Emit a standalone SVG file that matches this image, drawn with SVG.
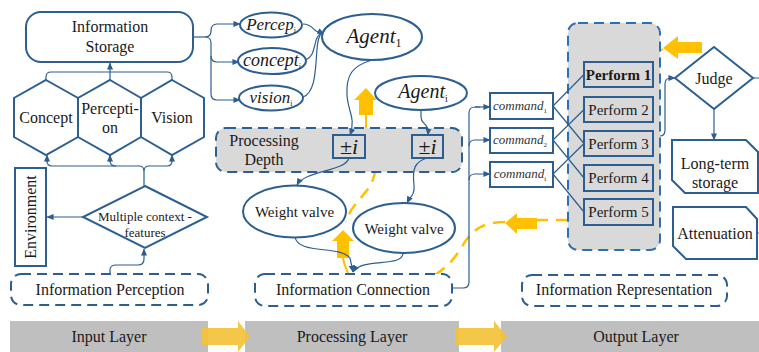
<svg xmlns="http://www.w3.org/2000/svg" width="759" height="352" viewBox="0 0 759 352" font-family="'Liberation Serif', 'Times New Roman', Times, serif">
<defs>
<marker id="ah" viewBox="0 0 8 8" refX="7.5" refY="4" markerWidth="7" markerHeight="7" markerUnits="userSpaceOnUse" orient="auto"><path d="M0,0.5 L8,4 L0,7.5 Z" fill="#2c5f8f"/></marker>
</defs>
<style>
.n{fill:#fff;stroke:#2c5f8f;stroke-width:2}
.g{fill:#d9d9d9;stroke:#2c5f8f;stroke-width:2}
.d{fill:#fff;stroke:#2c5f8f;stroke-width:2;stroke-dasharray:10 6}
.dg{fill:#d9d9d9;stroke:#2c5f8f;stroke-width:2;stroke-dasharray:10 6}
.do{fill:#d9d9d9;stroke:#2e6fb0;stroke-width:2;stroke-dasharray:10 6}
.c{fill:none;stroke:#2c5f8f;stroke-width:1.2}
.ca{fill:none;stroke:#2c5f8f;stroke-width:1.2;marker-end:url(#ah)}
text{font-family:'Liberation Serif','Times New Roman',Times,serif}
.t{font-size:16px;fill:#1a1a1a;text-anchor:middle}
.i{font-style:italic}
.y{fill:#ffc000}
.yb{fill:#f3c23a;opacity:0.92}
.yd{fill:none;stroke:#ffc000;stroke-width:2.5;stroke-dasharray:12 8}
.ys{fill:none;stroke:#ffc000;stroke-width:2}
.bar{fill:#bfbfbf}
</style>

<!-- bottom layer bars -->
<g id="layers">
<rect class="bar" x="10" y="321" width="198" height="31"/>
<rect class="bar" x="245" y="321" width="214" height="31"/>
<rect class="bar" x="501" y="321" width="258" height="31"/>
<text class="t" x="109" y="342">Input Layer</text>
<text class="t" x="352" y="342">Processing Layer</text>
<text class="t" x="636" y="342">Output Layer</text>
<path class="yb" d="M202,328 H238 V321 L250,336.5 L238,352 V345 H202 Z"/>
<path class="yb" d="M455,328 H494 V321 L507,336.5 L494,352 V345 H455 Z"/>
</g>

<!-- yellow feedback paths (behind boxes) -->
<g id="feedback">
<path class="ys" d="M366,115 V130"/>
<path class="yd" d="M375,170 C374,192 352,200 346,222"/>
<path class="ys" d="M343,258 C344,265 346,268 348,273"/>
<path class="yd" d="M568,220 H537"/>
<path class="yd" d="M505,222 C480,222 470,232 460,250 C452,262 445,268 435,275"/>
<path class="ys" d="M663,49 L660,51"/>
<path class="y" d="M366,88 L377,100 H373 V115 H359 V100 H354 Z"/>
<path class="y" d="M343,230 L354,241 H349 V258 H337 V241 H332 Z"/>
<path class="y" d="M505,223 L517,213 V218 H537 V229 H517 V234 Z"/>
<path class="y" d="M663,48 L678,36 V42 H702 V53 H678 V59 Z"/>
</g>

<!-- containers -->
<g id="processing-depth">
<rect class="dg" x="216" y="128" width="246" height="44" rx="10"/>
<text class="t" x="264" y="146">Processing</text>
<text class="t" x="264" y="165">Depth</text>
</g>
<g id="output-group">
<rect class="do" x="568" y="23" width="92" height="227" rx="10"/>
</g>

<!-- connectors -->
<g id="connectors">
<path class="c" d="M46,80 V77 Q46,72 51,72 H167 Q172,72 172,77 V80"/>
<path class="ca" d="M110,80 V63"/>
<path class="c" d="M144,186 V171 Q144,166 139,166 H52 Q47,166 47,161"/>
<path class="ca" d="M47,162 V155"/>
<path class="c" d="M144,171 Q144,166 149,166 H167 Q172,166 172,161"/>
<path class="ca" d="M172,162 V155"/>
<path class="c" d="M116,166 Q110,166 110,161"/>
<path class="ca" d="M110,162 V155"/>
<path class="ca" d="M110,274 V270 Q110,265 116,265 H138 Q144,265 144,259 V249"/>
<path class="ca" d="M83,217 H47"/>
<path class="c" d="M193,37 H205"/>
<path class="ca" d="M205,37 Q211,37 211,31 Q211,24 217,24 H240"/>
<path class="ca" d="M205,37 Q211,37 211,43 V56 Q211,62 217,62 H239"/>
<path class="ca" d="M211,56 V94 Q211,100 217,100 H240"/>
<path class="c" d="M303,24 C314,24 313,33 322,33"/>
<path class="c" d="M305,60 C318,56 312,36 322,33"/>
<path class="c" d="M303,97 C322,90 312,40 322,33"/>
<path class="ca" d="M318,31 L324,34"/>
<path class="ca" d="M372,60 C352,66 346,75 347,95 C348,112 356,118 350,135"/>
<path class="ca" d="M421,110 V117 C421,125 429,122 428,135"/>
<path class="ca" d="M349,158 C345,172 305,170 297,185"/>
<path class="ca" d="M427,158 C415,162 412,168 414,185 C415,195 410,197 407,203"/>
<path class="ca" d="M295,237 C298,255 340,245 350,258 L353,272"/>
<path class="ca" d="M403,253 C403,268 362,257 353,272"/>
<path class="c" d="M452,288 H463 Q469,288 469,282 V113 Q469,107 475,107 H480"/>
<path class="ca" d="M475,107 H490"/>
<path class="ca" d="M469,146 Q469,140 475,140 H490"/>
<path class="ca" d="M469,180 Q469,174 475,174 H490"/>
<path class="c" d="M553,106 L584,74.5 M553,106 L584,143.5 M553,140 L584,109.5 M553,140 L584,178 M553,174 L584,143.5 M553,174 L584,212"/>
<path class="ca" d="M660,136 Q665,136 665,130 V84 Q665,78 671,78 H675"/>
<path class="ca" d="M714,109 V140"/>
<path class="c" d="M753,78 H759 M757,233 H759"/>
</g>

<!-- input layer nodes -->
<g id="info-storage">
<rect class="n" x="26" y="12" width="167" height="50" rx="15"/>
<text class="t" x="110" y="32">Information</text>
<text class="t" x="110" y="52">Storage</text>
</g>
<g id="concept">
<polygon class="n" points="46,80 78,98 78,137 46,155 14,137 14,98"/>
<text class="t" x="46" y="123">Concept</text>
</g>
<g id="perception">
<polygon class="n" points="110,80 141,98 141,137 110,155 78,137 78,98"/>
<text class="t" x="110" y="114">Percepti-</text>
<text class="t" x="110" y="133">on</text>
</g>
<g id="vision">
<polygon class="n" points="172,80 204,98 204,137 172,155 141,137 141,98"/>
<text class="t" x="172" y="123">Vision</text>
</g>
<g id="environment">
<rect class="n" x="15" y="168" width="31" height="98"/>
<text class="t" x="30" y="217" transform="rotate(-90 30 217)" dy="5.5">Environment</text>
</g>
<g id="multiple-context">
<polygon class="n" points="145,186 207,217 145,248 83,217"/>
<text class="t" x="145" y="221" style="font-size:13px">Multiple context -</text>
<text class="t" x="145" y="237" style="font-size:13px">features</text>
</g>
<g id="info-perception">
<rect class="d" x="11" y="274" width="197" height="31" rx="10"/>
<text class="t" x="110" y="295">Information Perception</text>
</g>

<!-- processing layer nodes -->
<g id="percep-i">
<ellipse class="n" cx="271" cy="25" rx="31" ry="12.5"/>
<text class="t i" x="271" y="30" style="font-size:17px">Percep<tspan dy="3" style="font-size:8px;font-style:normal">i</tspan></text>
</g>
<g id="concept-i">
<ellipse class="n" cx="272" cy="61" rx="34" ry="13"/>
<text class="t i" x="272" y="66" style="font-size:18px">concept<tspan dy="3" style="font-size:8px;font-style:normal">i</tspan></text>
</g>
<g id="vision-i">
<ellipse class="n" cx="271" cy="98" rx="32" ry="12.5"/>
<text class="t i" x="271" y="103" style="font-size:17px">vision<tspan dy="3" style="font-size:8px;font-style:normal">i</tspan></text>
</g>
<g id="agent-1">
<ellipse class="n" cx="372" cy="37" rx="50" ry="23"/>
<text class="t i" x="374" y="43" style="font-size:21px">Agent<tspan dy="4" style="font-size:12px;font-style:normal">1</tspan></text>
</g>
<g id="agent-i">
<ellipse class="n" cx="421" cy="93" rx="46" ry="17"/>
<text class="t i" x="423" y="98" style="font-size:20px">Agent<tspan dy="4" style="font-size:10px;font-style:normal">i</tspan></text>
</g>
<g id="pm-1">
<rect class="g" x="333" y="135" width="32" height="23"/>
<text class="t" x="349" y="154" style="font-size:22px">±<tspan class="i">i</tspan></text>
</g>
<g id="pm-2">
<rect class="g" x="412" y="135" width="31" height="23"/>
<text class="t" x="427.5" y="154" style="font-size:22px">±<tspan class="i">i</tspan></text>
</g>
<g id="weight-valve-1">
<ellipse class="n" cx="294.5" cy="211.5" rx="51.5" ry="26"/>
<text class="t" x="294.5" y="217" style="font-size:15px">Weight valve</text>
</g>
<g id="weight-valve-2">
<ellipse class="n" cx="404" cy="228" rx="51" ry="25"/>
<text class="t" x="404" y="234" style="font-size:15px">Weight valve</text>
</g>
<g id="info-connection">
<rect class="d" x="255" y="274" width="197" height="32" rx="10"/>
<text class="t" x="353" y="295">Information Connection</text>
</g>

<!-- output layer nodes -->
<g id="command-1">
<rect class="n" x="490" y="93" width="63" height="26"/>
<text class="t i" x="520" y="110" style="font-size:13px;fill:#333">command<tspan dy="3" style="font-size:7px;font-style:normal">1</tspan></text>
</g>
<g id="command-2">
<rect class="n" x="490" y="128" width="63" height="25"/>
<text class="t i" x="520" y="144" style="font-size:13px;fill:#333">command<tspan dy="3" style="font-size:7px;font-style:normal">2</tspan></text>
</g>
<g id="command-i">
<rect class="n" x="490" y="162" width="63" height="25"/>
<text class="t i" x="520" y="178" style="font-size:13px;fill:#333">command<tspan dy="3" style="font-size:7px;font-style:normal">i</tspan></text>
</g>
<g id="perform-1">
<rect class="g" x="584" y="62" width="69" height="25"/>
<text class="t" x="618.5" y="80" style="font-size:15px;font-weight:bold">Perform 1</text>
</g>
<g id="perform-2">
<rect class="g" x="584" y="97" width="69" height="25"/>
<text class="t" x="618.5" y="115" style="font-size:15px">Perform 2</text>
</g>
<g id="perform-3">
<rect class="g" x="584" y="131" width="69" height="25"/>
<text class="t" x="618.5" y="149" style="font-size:15px">Perform 3</text>
</g>
<g id="perform-4">
<rect class="g" x="584" y="165" width="69" height="26"/>
<text class="t" x="618.5" y="183" style="font-size:15px">Perform 4</text>
</g>
<g id="perform-5">
<rect class="g" x="584" y="199" width="69" height="26"/>
<text class="t" x="618.5" y="217" style="font-size:15px">Perform 5</text>
</g>
<g id="judge">
<polygon class="n" points="714,47 753,78 714,109 675,78"/>
<text class="t" x="714" y="84">Judge</text>
</g>
<g id="long-term-storage">
<polygon class="n" points="672,140 746,140 758,152 758,193 685,193 672,180"/>
<text class="t" x="715" y="169">Long-term</text>
<text class="t" x="715" y="188">storage</text>
</g>
<g id="attenuation">
<polygon class="n" points="673,207 746,207 757,219 757,259 686,259 673,246"/>
<text class="t" x="715" y="239">Attenuation</text>
</g>
<g id="info-representation">
<rect class="d" x="522" y="275" width="205" height="31" rx="10"/>
<text class="t" x="624" y="295">Information Representation</text>
</g>
</svg>
